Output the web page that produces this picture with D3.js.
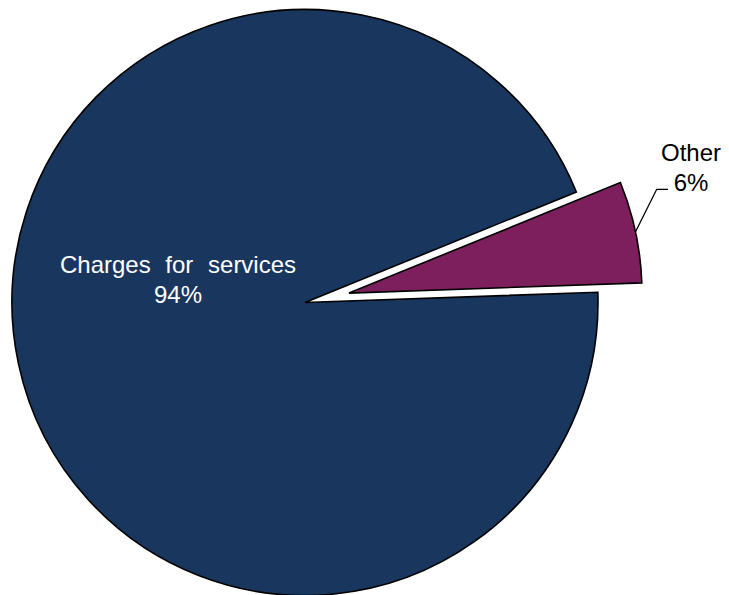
<!DOCTYPE html>
<html>
<head>
<meta charset="utf-8">
<script src="https://cdn.jsdelivr.net/npm/d3@7"></script>
<style>
  html, body { margin: 0; padding: 0; background: #ffffff; }
  svg { display: block; }
</style>
</head>
<body>
<div id="chart"></div>
<script>
// datos del grafico
var categorias = ["Charges for services", "Other"];
var valores = [94.4, 5.6];
var colores = ["#19375e", "#7e1f5d"];

var ancho = 729, alto = 595;
var cx = 305, cy = 302.5;   // centro del pie
var radio = 293;
var separacion = 45;        // "explode" de la rebanada Other
var inicio = 88 * Math.PI / 180;

var svg = d3.select("#chart")
    .append("svg")
    .attr("width", ancho)
    .attr("height", alto);

var g = svg.append("g")
    .attr("transform", "translate(" + cx + "," + cy + ")");

var pie = d3.pie()
    .sort(null)
    .startAngle(inicio)
    .endAngle(inicio + 2 * Math.PI);

var arcos = pie(valores);

var arco = d3.arc()
    .innerRadius(0)
    .outerRadius(radio);

function desplazamiento(d, i) {
    if (i === 0) return [0, 0];
    var a = (d.startAngle + d.endAngle) / 2;
    return [Math.sin(a) * separacion, -Math.cos(a) * separacion];
}

g.selectAll("path.slice")
    .data(arcos)
    .enter()
    .append("path")
    .attr("class", "slice")
    .attr("transform", function(d, i) {
        var o = desplazamiento(d, i);
        return "translate(" + o[0] + "," + o[1] + ")";
    })
    .attr("d", arco)
    .attr("fill", function(d, i) { return colores[i]; })
    .attr("stroke", "#000000")
    .attr("stroke-width", 1.6)
    .attr("stroke-linejoin", "miter");

var fmt = function(v) { return Math.round(v) + "%"; };

// etiqueta dentro de la rebanada grande
var lbl1 = g.append("text")
    .attr("x", -127)
    .attr("y", -30)
    .attr("text-anchor", "middle")
    .attr("fill", "#ffffff")
    .style("font-family", "'Liberation Sans', Arial, sans-serif")
    .style("font-size", "24px")
    .style("word-spacing", "8px");
lbl1.append("tspan").attr("x", -127).attr("dy", 0).text(categorias[0]);
lbl1.append("tspan").attr("x", -127).attr("dy", 30.5).text(fmt(valores[0]));

// etiqueta externa con linea guia
var d2 = arcos[1];
var o2 = desplazamiento(d2, 1);
var am = (d2.startAngle + d2.endAngle) / 2;
var p0 = [o2[0] + Math.sin(am) * radio, o2[1] - Math.cos(am) * radio];
var p1 = [656.7 - cx, 189.3 - cy];
var p2 = [668 - cx, 189.3 - cy];

g.append("path")
    .attr("d", d3.line()([p0, p1, p2]))
    .attr("fill", "none")
    .attr("stroke", "#000000")
    .attr("stroke-width", 1.3);

var lbl2 = g.append("text")
    .attr("text-anchor", "middle")
    .attr("fill", "#000000")
    .style("font-family", "'Liberation Sans', Arial, sans-serif")
    .style("font-size", "24px");
lbl2.append("tspan").attr("x", 691 - cx).attr("y", 160.7 - cy).text(categorias[1]);
lbl2.append("tspan").attr("x", 691 - cx).attr("y", 191 - cy).text(fmt(valores[1]));
</script>
</body>
</html>
